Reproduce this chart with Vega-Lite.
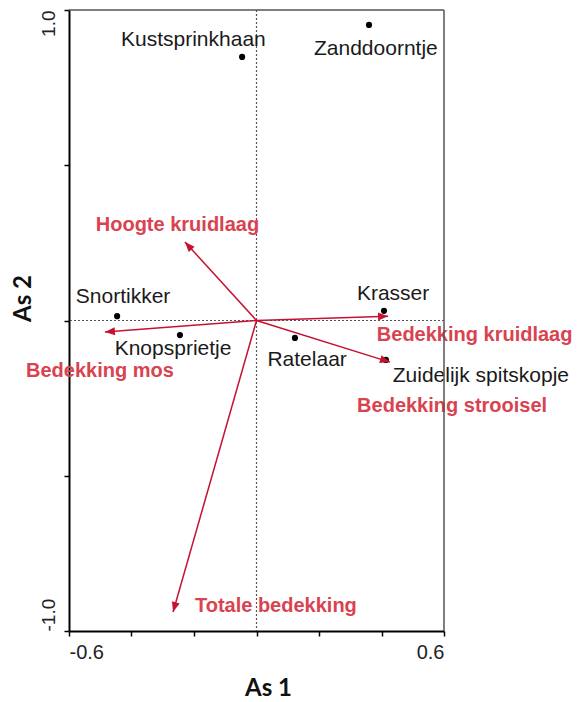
{
  "$schema": "https://vega.github.io/schema/vega-lite/v6.json",
  "width": 375,
  "height": 621,
  "autosize": "none",
  "padding": {"left": 69, "top": 10, "right": 135, "bottom": 71},
  "background": "white",
  "config": {
    "view": {"stroke": null},
    "axis": {
      "grid": false,
      "domainColor": "black", "domainWidth": 2,
      "tickColor": "black", "tickWidth": 1.5, "tickSize": 5,
      "labelFont": "Liberation Sans", "labelColor": "#222222", "labelPadding": 6,
      "titleFont": "Lato", "titleFontSize": 24, "titleFontWeight": "bold", "titleColor": "#111111"
    },
    "axisY": {"labelFontSize": 19},
    "axisX": {"labelFontSize": 20}
  },
  "datasets": {
    "species": [
      {"name": "Kustsprinkhaan", "x": -0.046, "y": 0.849, "lx": -0.202, "ly": 0.903},
      {"name": "Zanddoorntje", "x": 0.360, "y": 0.952, "lx": 0.382, "ly": 0.874},
      {"name": "Snortikker", "x": -0.446, "y": 0.014, "lx": -0.427, "ly": 0.076},
      {"name": "Knopsprietje", "x": -0.245, "y": -0.047, "lx": -0.267, "ly": -0.093},
      {"name": "Ratelaar", "x": 0.123, "y": -0.056, "lx": 0.162, "ly": -0.127},
      {"name": "Krasser", "x": 0.408, "y": 0.031, "lx": 0.437, "ly": 0.085},
      {"name": "Zuidelijk spitskopje", "x": 0.414, "y": -0.127, "lx": 0.718, "ly": -0.179}
    ],
    "vectors": [
      {"name": "Hoogte kruidlaag", "x": -0.229, "y": 0.253, "lx": -0.253, "ly": 0.309},
      {"name": "Bedekking mos", "x": -0.485, "y": -0.037, "lx": -0.501, "ly": -0.162},
      {"name": "Bedekking kruidlaag", "x": 0.421, "y": 0.014, "lx": 0.698, "ly": -0.047},
      {"name": "Bedekking strooisel", "x": 0.427, "y": -0.134, "lx": 0.626, "ly": -0.274},
      {"name": "Totale bedekking", "x": -0.267, "y": -0.939, "lx": 0.062, "ly": -0.918}
    ],
    "one": [{}]
  },
  "layer": [
    {
      "data": {"name": "species"},
      "mark": {"type": "point", "shape": "circle", "filled": true, "color": "black", "size": 38, "opacity": 1},
      "encoding": {
        "x": {
          "field": "x", "type": "quantitative",
          "scale": {"domain": [-0.6, 0.6], "nice": false, "zero": false},
          "axis": {
            "title": "As 1",
            "values": [-0.6, -0.4, -0.2, 0, 0.2, 0.4, 0.6],
            "labelExpr": "datum.value == -0.6 ? '-0.6' : (datum.value == 0.6 ? '0.6' : '')",
            "labelFontSize": 20, "labelFlush": true,
            "titleX": 199, "titleY": 57, "titleBaseline": "middle", "titleAlign": "center"
          }
        },
        "y": {
          "field": "y", "type": "quantitative",
          "scale": {"domain": [-1, 1], "nice": false, "zero": false},
          "axis": {
            "title": "As 2",
            "values": [-1, -0.5, 0, 0.5, 1],
            "labelExpr": "datum.value == 1 ? '1.0' : (datum.value == -1 ? '-1.0' : '')",
            "labelFontSize": 19,
            "labelAngle": -90,
            "labelBaseline": "bottom",
            "labelAlign": {"condition": {"test": "datum.value > 0", "value": "right"}, "value": "left"},
            "titleAngle": -90, "titleX": -46, "titleY": 288, "titleBaseline": "middle", "titleAlign": "center"
          }
        }
      }
    },
    {
      "data": {"name": "one"},
      "mark": {"type": "rule", "color": "#555555", "strokeWidth": 1.2, "strokeDash": [2, 2]},
      "encoding": {
        "x": {"datum": 0, "type": "quantitative"}
      }
    },
    {
      "data": {"name": "one"},
      "mark": {"type": "rule", "color": "#555555", "strokeWidth": 1.2, "strokeDash": [2, 2]},
      "encoding": {
        "y": {"datum": 0, "type": "quantitative"}
      }
    },
    {
      "data": {"name": "vectors"},
      "mark": {"type": "rule", "color": "#c41230", "strokeWidth": 1.5},
      "encoding": {
        "x": {"field": "x", "type": "quantitative"},
        "y": {"field": "y", "type": "quantitative"},
        "x2": {"datum": 0},
        "y2": {"datum": 0}
      }
    },
    {
      "data": {"name": "vectors"},
      "mark": {"type": "point", "shape": "M0,0L-0.4,1L0.4,1Z", "filled": true, "color": "#c41230", "size": 400, "opacity": 1,
               "angle": {"expr": "atan2(datum.x, datum.y) * 180 / PI"}},
      "encoding": {
        "x": {"field": "x", "type": "quantitative"},
        "y": {"field": "y", "type": "quantitative"}
      }
    },
    {
      "data": {"name": "species"},
      "mark": {"type": "text", "font": "Liberation Sans", "fontSize": 21, "color": "#1a1a1a", "align": "center", "baseline": "middle"},
      "encoding": {
        "x": {"field": "lx", "type": "quantitative"},
        "y": {"field": "ly", "type": "quantitative"},
        "text": {"field": "name"}
      }
    },
    {
      "data": {"name": "vectors"},
      "mark": {"type": "text", "font": "Liberation Sans", "fontSize": 20, "fontWeight": "bold", "color": "#d9434f", "align": "center", "baseline": "middle"},
      "encoding": {
        "x": {"field": "lx", "type": "quantitative"},
        "y": {"field": "ly", "type": "quantitative"},
        "text": {"field": "name"}
      }
    },
    {
      "data": {"name": "one"},
      "mark": {"type": "rule", "color": "#555555", "strokeWidth": 1.5},
      "encoding": {
        "x": {"datum": 0.6, "type": "quantitative"}
      }
    },
    {
      "data": {"name": "one"},
      "mark": {"type": "rule", "color": "#555555", "strokeWidth": 1.5},
      "encoding": {
        "y": {"datum": 1, "type": "quantitative"}
      }
    }
  ]
}
